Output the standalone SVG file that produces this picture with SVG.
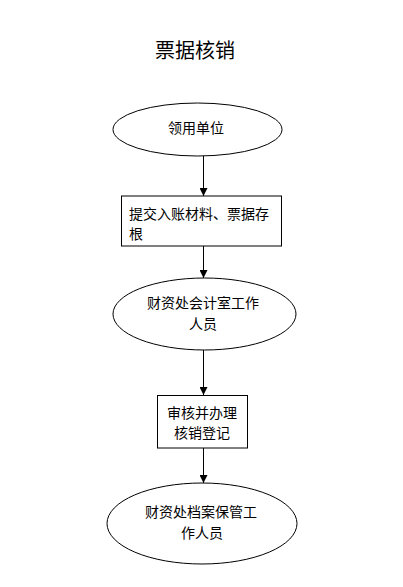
<svg xmlns="http://www.w3.org/2000/svg" width="403" height="587" viewBox="0 0 403 587">
<defs>
<style>
.shape{fill:#ffffff;stroke:#000000;stroke-width:1}
.t{font-family:"Noto Sans CJK SC","Liberation Sans",sans-serif;font-size:14px;fill:#000000}
.title{font-family:"Noto Sans CJK SC","Liberation Sans",sans-serif;font-size:20px;fill:#000000}
.conn{stroke:#000000;stroke-width:1;fill:none}
</style>
<marker id="arrow" markerWidth="8" markerHeight="8" refX="8" refY="4" orient="auto" markerUnits="userSpaceOnUse">
<path d="M0,0 L8,4 L0,8 Z" fill="#000000"/>
</marker>
</defs>
<rect width="403" height="587" fill="#ffffff"/>
<text class="title" x="195" y="58" text-anchor="middle">票据核销</text>
<g id="connectors">
<line class="conn" x1="203.5" y1="156" x2="203.5" y2="196" marker-end="url(#arrow)"/>
<line class="conn" x1="203.5" y1="246" x2="203.5" y2="278" marker-end="url(#arrow)"/>
<line class="conn" x1="203.5" y1="350" x2="203.5" y2="395" marker-end="url(#arrow)"/>
<line class="conn" x1="203.5" y1="448" x2="203.5" y2="483" marker-end="url(#arrow)"/>
</g>
<g id="node1">
<ellipse class="shape" cx="197.5" cy="129.5" rx="84.5" ry="26.5"/>
<text class="t" x="196" y="133" text-anchor="middle">领用单位</text>
</g>
<g id="node2">
<rect class="shape" x="121.5" y="196" width="160" height="50"/>
<text class="t" x="129" y="219">提交入账材料、票据存</text>
<text class="t" x="129" y="239">根</text>
</g>
<g id="node3">
<ellipse class="shape" cx="204.5" cy="314" rx="91.5" ry="36"/>
<text class="t" x="203" y="308" text-anchor="middle">财资处会计室工作</text>
<text class="t" x="203" y="329" text-anchor="middle">人员</text>
</g>
<g id="node4">
<rect class="shape" x="157.5" y="395.5" width="90" height="52.5"/>
<text class="t" x="202" y="418" text-anchor="middle">审核并办理</text>
<text class="t" x="202" y="438" text-anchor="middle">核销登记</text>
</g>
<g id="node5">
<ellipse class="shape" cx="202" cy="523.5" rx="95" ry="40.5"/>
<text class="t" x="201" y="517" text-anchor="middle">财资处档案保管工</text>
<text class="t" x="202" y="538" text-anchor="middle">作人员</text>
</g>
</svg>
